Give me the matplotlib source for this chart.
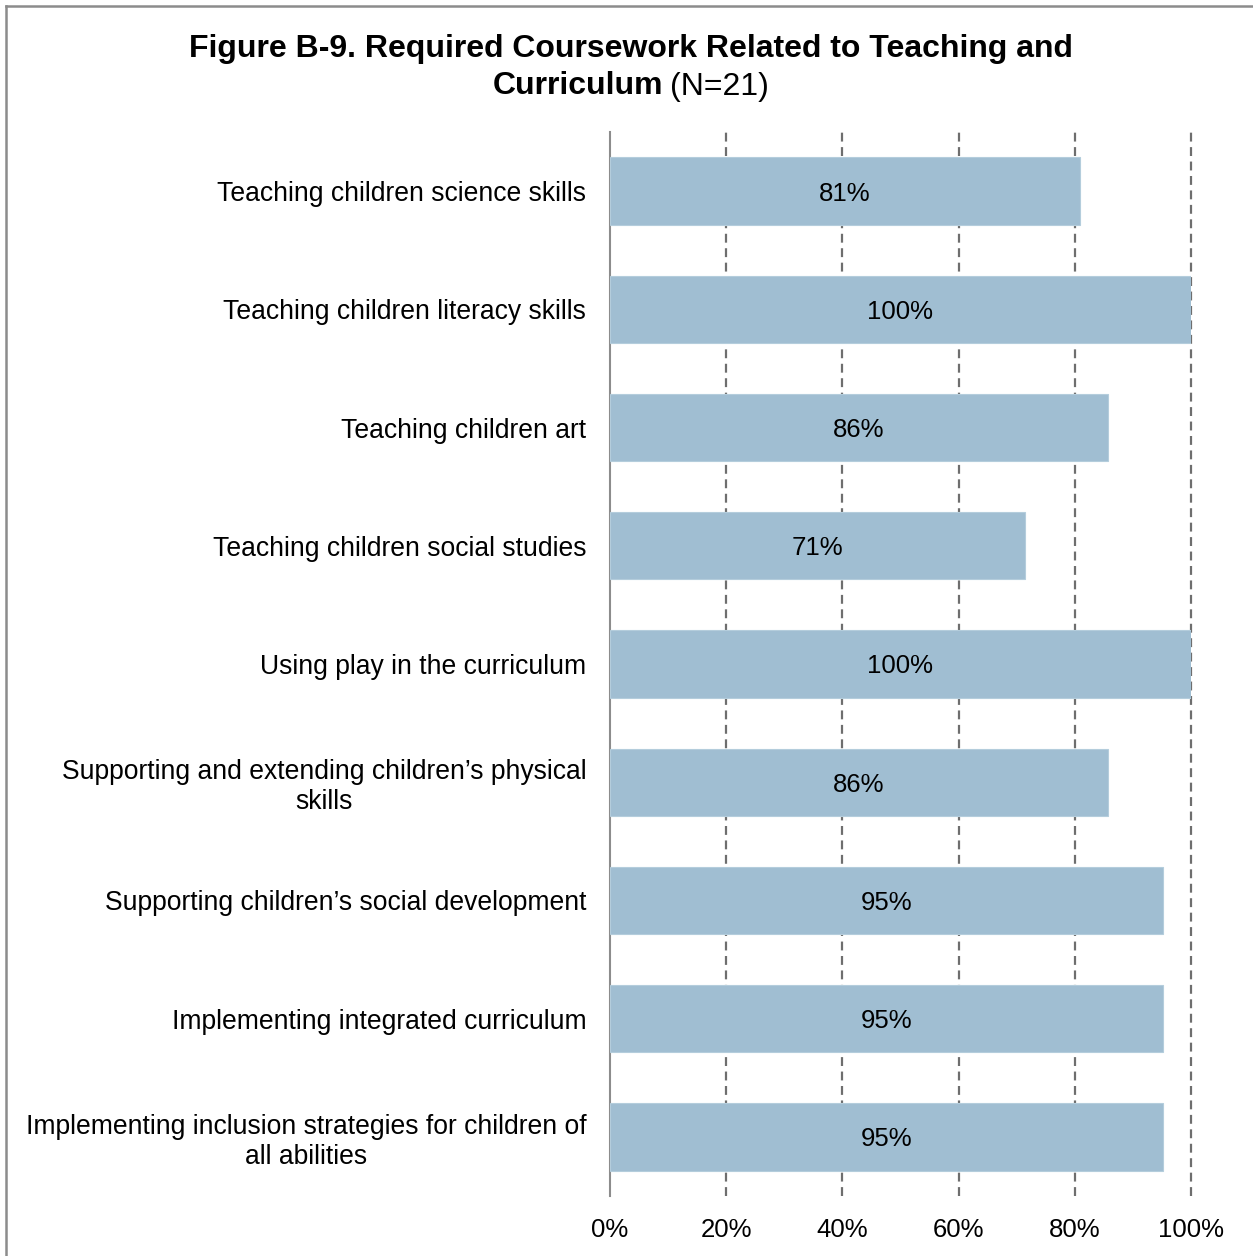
import matplotlib
matplotlib.use("Agg")
import matplotlib.pyplot as plt
from matplotlib.lines import Line2D

plt.rcParams['font.family'] = ['Liberation Sans', 'DejaVu Sans']

categories = [
    "Teaching children science skills",
    "Teaching children literacy skills",
    "Teaching children art",
    "Teaching children social studies",
    "Using play in the curriculum",
    "Supporting and extending children\u2019s physical\nskills",
    "Supporting children\u2019s social development",
    "Implementing integrated curriculum",
    "Implementing inclusion strategies for children of\nall abilities",
]
counts = [17, 21, 18, 15, 21, 18, 20, 20, 20]  # out of N=21
n_total = 21
values = [100.0 * c / n_total for c in counts]
xticks = [0, 20, 40, 60, 80, 100]

fig = plt.figure(figsize=(12.53, 12.56), dpi=100)
ax = fig.add_axes([0.4868, 0.0478, 0.9505 - 0.4868, 0.8949 - 0.0478])

ypos = list(range(len(categories)))
ax.barh(ypos, values, height=0.57, color='#A0BED2', edgecolor='#B4CDDC',
        linewidth=0.8, zorder=3)
for y, v in zip(ypos, values):
    ax.text(v / 2, y, f"{v:.0f}%", ha='center', va='center_baseline',
            fontsize=18.5, color='black', zorder=4)

ax.set_ylim(len(categories) - 0.5, -0.5)
ax.set_xlim(0, 100)
ax.set_yticks(ypos)
ax.set_yticklabels(categories, fontsize=19.1)
for lab in ax.get_yticklabels():
    lab.set_multialignment('center')
ax.set_xticks(xticks)
ax.set_xticklabels([f"{t}%" for t in xticks], fontsize=18.5)
ax.tick_params(axis='y', length=0, pad=17)
ax.tick_params(axis='x', length=0, pad=16)

for t in xticks[1:]:
    ax.axvline(t, color='#6E6E6E', linestyle=(0, (4, 2.5)), linewidth=1.6,
               zorder=1, clip_on=False)

for side in ['top', 'right', 'bottom']:
    ax.spines[side].set_visible(False)
ax.spines['left'].set_color('#8C8C8C')
ax.spines['left'].set_linewidth(1.5)

# title: bold first line, mixed bold/normal second line
fig.text(631 / 1253, 1 - 46 / 1256,
         "Figure B-9. Required Coursework Related to Teaching and",
         ha='center', va='center_baseline', fontsize=23, fontweight='bold')
fig.text(663 / 1253, 1 - 83 / 1256, "Curriculum", ha='right',
         va='center_baseline', fontsize=23, fontweight='bold')
fig.text(670 / 1253, 1 - 83 / 1256, "(N=21)", ha='left',
         va='center_baseline', fontsize=23)

# outer frame (top and left visible in the crop)
x0 = 5.5 / 1253
y0 = 1 - 5.5 / 1256
fig.add_artist(Line2D([x0, 1.0], [y0, y0], transform=fig.transFigure,
                      color='#8C8C8C', linewidth=1.8))
fig.add_artist(Line2D([x0, x0], [0.0, y0], transform=fig.transFigure,
                      color='#8C8C8C', linewidth=1.8))

fig.savefig('out.png', dpi=100, facecolor='white')
